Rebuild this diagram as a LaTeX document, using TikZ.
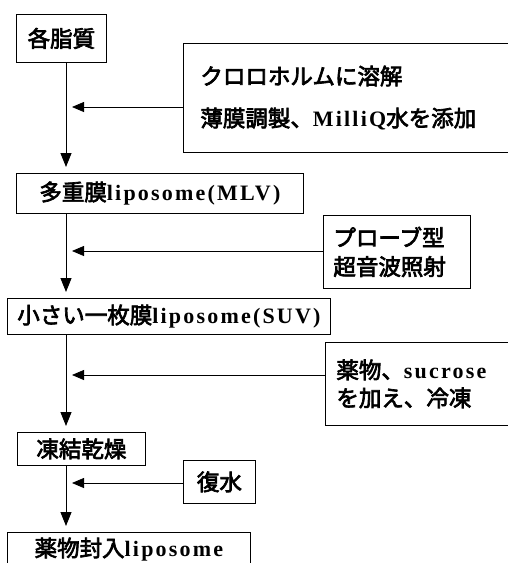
\documentclass[tikz,border=0pt]{standalone}
\usepackage{fontspec}
\setmainfont{Liberation Serif}
\newfontfamily\jpf[FakeBold=3]{Noto Sans CJK JP}
\newfontfamily\enf[LetterSpace=10]{Liberation Serif}
\newcommand\jj[1]{{\jpf #1}}
\newcommand\ee[1]{{\enf\bfseries\fontsize{22}{\the\baselineskip}\selectfont #1}}
\usetikzlibrary{arrows.meta}
\begin{document}
\begin{tikzpicture}[x=1pt,y=-1pt,
  box/.style={draw, line width=0.8pt, inner sep=0pt, anchor=north west,
    font=\fontsize{22.5}{26}\selectfont},
  vline/.style={line width=0.8pt, -{Triangle[length=14pt,width=11pt]}, shorten >=6pt},
  hline/.style={line width=0.8pt, -{Triangle[length=12pt,width=10pt]}, shorten >=6pt}]
\useasboundingbox (0,0) rectangle (508,563);
\coordinate (t) at (66,0);
\coordinate (h1) at (66,107);
\coordinate (h2) at (66,251);
\coordinate (h3) at (66,375);
\coordinate (h4) at (66,483);
% main boxes
\node[box, minimum width=90pt, minimum height=48pt] (A) at (16,14) {\jj{各脂質}};
\node[box, minimum width=287pt, minimum height=40pt] (B) at (16,173) {\jj{多重膜}\ee{liposome(MLV)}};
\node[box, minimum width=323pt, minimum height=36pt] (C) at (7,298) {\jj{小さい一枚膜}\ee{liposome(SUV)}};
\node[box, minimum width=128pt, minimum height=33pt] (D) at (17,432) {\jj{凍結乾燥}};
\node[box, minimum width=243pt, minimum height=34pt] (E) at (7,532) {\jj{薬物封入}\ee{liposome}};
% side boxes
\node[box, inner xsep=17pt, text width=306pt, align=left, minimum height=109pt,
  font=\fontsize{22.5}{42}\selectfont] (R1) at (183,43)
  {\jj{クロロホルムに溶解}\\\jj{薄膜調製、}\ee{MilliQ}\jj{水を添加}};
\node[box, inner xsep=10pt, text width=127pt, align=left, minimum height=73pt,
  font=\fontsize{22.5}{29}\selectfont] (R2) at (323,215)
  {\jj{プローブ型}\\\jj{超音波照射}};
\node[box, inner xsep=11pt, text width=178pt, align=left, minimum height=83pt,
  font=\fontsize{22.5}{28}\selectfont] (R3) at (325,342)
  {\jj{薬物、}\ee{sucrose}\\\jj{を加え、冷凍}};
\node[box, minimum width=72pt, minimum height=43pt] (R4) at (183,460) {\jj{復水}};
% trunk
\draw[vline] (A.south -| t) -- (B.north -| t);
\draw[vline] (B.south -| t) -- (C.north -| t);
\draw[vline] (C.south -| t) -- (D.north -| t);
\draw[vline] (D.south -| t) -- (E.north -| t);
% side arrows
\draw[hline] (R1.west |- h1) -- (h1);
\draw[hline] (R2.west |- h2) -- (h2);
\draw[hline] (R3.west |- h3) -- (h3);
\draw[hline] (R4.west |- h4) -- (h4);
\end{tikzpicture}
\end{document}
